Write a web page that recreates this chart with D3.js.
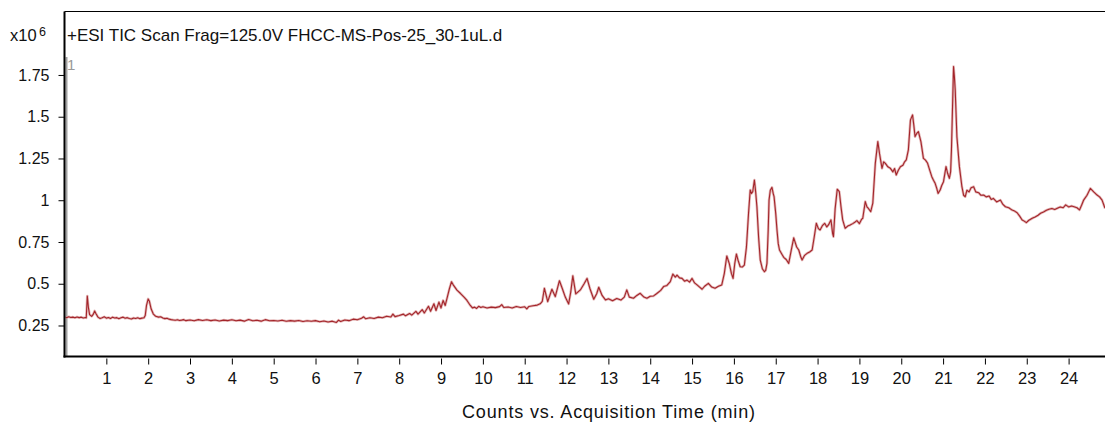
<!DOCTYPE html>
<html><head><meta charset="utf-8">
<script src="https://cdn.jsdelivr.net/npm/d3@7"></script>
<style>body{margin:0;background:#fff}svg{display:block}text{font-family:"Liberation Sans",Arial,sans-serif;fill:#111}</style>
</head><body><svg id="c" width="1105" height="423"></svg>
<script>
const title = "+ESI TIC Scan Frag=125.0V FHCC-MS-Pos-25_30-1uL.d";
const xLabel = "Counts vs. Acquisition Time (min)";
const xTicks = [1,2,3,4,5,6,7,8,9,10,11,12,13,14,15,16,17,18,19,20,21,22,23,24];
const yTicks = [0.25,0.5,0.75,1,1.25,1.5,1.75];
const yTickLabels = ["0.25","0.5","0.75","1","1.25","1.5","1.75"];
const times = [0.0,0.05,0.1,0.15,0.2,0.25,0.3,0.35,0.4,0.45,0.5,0.52,0.545,0.57,0.6,0.65,0.69,0.72,0.75,0.8,0.85,0.9,0.95,1.0,1.05,1.1,1.15,1.2,1.25,1.3,1.35,1.4,1.45,1.5,1.55,1.6,1.65,1.7,1.75,1.8,1.85,1.9,1.93,1.96,2.0,2.03,2.07,2.12,2.18,2.25,2.3,2.35,2.4,2.45,2.5,2.55,2.6,2.65,2.7,2.75,2.8,2.85,2.9,
3.0,3.1,3.2,3.3,3.4,3.5,3.6,3.7,3.8,3.9,4.0,4.1,4.2,4.3,4.4,4.5,4.6,4.7,4.8,4.9,5.0,5.1,5.2,5.3,5.4,5.5,5.6,5.7,5.8,5.9,6.0,6.1,6.2,6.3,6.4,6.5,6.55,6.6,6.7,6.8,6.9,7.0,7.1,7.15,7.2,7.3,7.4,7.5,7.6,7.7,7.8,7.85,7.9,8.0,8.1,8.15,8.25,8.3,8.4,8.45,8.55,8.6,8.7,8.75,8.83,8.88,8.95,9.0,9.05,9.1,9.15,9.2,9.25,9.3,9.38,9.46,9.55,9.62,9.7,9.75,9.8,9.85,9.9,9.95,10.0,10.1,10.2,10.3,10.4,10.45,10.5,10.6,10.7,10.8,10.9,11.0,11.05,11.1,11.2,11.3,11.37,11.42,11.47,11.55,11.65,11.73,11.83,11.9,11.97,12.05,12.1,12.15,12.22,12.33,12.42,12.49,12.56,12.65,12.72,12.77,12.85,12.93,13.0,13.1,13.2,13.3,13.38,13.44,13.5,13.6,13.68,13.76,13.85,13.92,14.0,14.08,14.15,14.25,14.32,14.4,14.48,14.54,14.6,14.64,14.7,14.76,14.82,14.88,14.94,15.0,15.06,15.12,15.18,15.24,15.3,15.39,15.47,15.55,15.63,15.71,15.77,15.83,15.89,15.94,15.98,16.02,16.06,16.1,16.15,16.2,16.25,16.3,16.35,16.39,16.42,16.45,16.49,16.52,16.55,16.59,16.63,16.68,16.73,16.76,16.79,16.82,16.84,16.87,16.91,16.94,16.96,17.0,17.03,17.06,17.09,17.14,17.19,17.25,17.31,17.37,17.43,17.5,17.55,17.6,17.63,17.69,17.75,17.81,17.87,17.92,17.97,18.02,18.06,18.12,18.17,18.22,18.26,18.32,18.36,18.38,18.42,18.47,18.52,18.56,18.6,18.66,18.72,18.78,18.84,18.9,18.94,19.0,19.05,19.08,19.14,19.18,19.21,19.27,19.32,19.38,19.44,19.48,19.54,19.58,19.62,19.68,19.74,19.8,19.84,19.88,19.93,19.98,20.04,20.08,20.12,20.17,20.22,20.27,20.3,20.33,20.37,20.41,20.47,20.53,20.58,20.63,20.68,20.73,20.77,20.81,20.85,20.88,20.93,20.97,21.01,21.07,21.11,21.15,21.18,21.2,21.23,21.25,21.27,21.29,21.33,21.39,21.45,21.49,21.53,21.57,21.62,21.67,21.73,21.78,21.85,21.9,21.97,22.03,22.1,22.15,22.2,22.28,22.37,22.43,22.49,22.57,22.65,22.71,22.77,22.83,22.89,22.94,22.99,23.05,23.13,23.2,23.27,23.33,23.4,23.47,23.53,23.6,23.67,23.73,23.8,23.87,23.93,24.0,24.07,24.13,24.2,24.26,24.31,24.36,24.44,24.52,24.6,24.68,24.74,24.8,24.87];
const counts = [0.300,0.297,0.302,0.298,0.300,0.296,0.301,0.297,0.300,0.295,0.298,0.296,0.427,0.360,0.315,0.305,0.318,0.337,0.322,0.300,0.292,0.296,0.302,0.294,0.298,0.292,0.300,0.295,0.297,0.291,0.296,0.300,0.293,0.297,0.292,0.289,0.295,0.292,0.296,0.291,0.294,0.296,0.310,0.370,0.409,0.395,0.350,0.320,0.305,0.300,0.302,0.295,0.291,0.293,0.288,0.285,0.283,0.281,0.284,0.280,0.282,0.285,0.279,
0.283,0.278,0.285,0.280,0.284,0.279,0.283,0.277,0.282,0.279,0.284,0.278,0.282,0.276,0.286,0.278,0.281,0.276,0.285,0.278,0.280,0.277,0.281,0.275,0.279,0.276,0.280,0.274,0.278,0.275,0.279,0.272,0.277,0.271,0.276,0.268,0.282,0.274,0.283,0.279,0.288,0.284,0.293,0.302,0.290,0.296,0.292,0.300,0.296,0.305,0.301,0.318,0.303,0.310,0.318,0.308,0.322,0.312,0.335,0.318,0.345,0.325,0.365,0.335,0.380,0.340,0.390,0.355,0.400,0.370,0.420,0.470,0.512,0.490,0.462,0.443,0.420,0.400,0.370,0.355,0.360,0.352,0.365,0.358,0.362,0.355,0.360,0.357,0.363,0.375,0.358,0.361,0.355,0.364,0.358,0.362,0.350,0.364,0.368,0.372,0.380,0.395,0.473,0.393,0.467,0.423,0.518,0.470,0.420,0.379,0.450,0.548,0.439,0.463,0.500,0.532,0.470,0.407,0.440,0.479,0.430,0.403,0.410,0.398,0.412,0.402,0.420,0.463,0.420,0.413,0.430,0.443,0.420,0.413,0.425,0.427,0.440,0.460,0.483,0.490,0.513,0.558,0.540,0.552,0.535,0.532,0.515,0.522,0.510,0.532,0.505,0.493,0.480,0.467,0.485,0.502,0.480,0.473,0.485,0.493,0.560,0.666,0.620,0.562,0.532,0.620,0.678,0.640,0.602,0.600,0.612,0.720,0.922,1.061,1.040,1.051,1.121,1.050,0.961,0.780,0.642,0.590,0.572,0.580,0.622,0.820,1.001,1.060,1.077,1.040,1.021,0.920,0.822,0.740,0.702,0.680,0.658,0.645,0.622,0.700,0.775,0.720,0.702,0.660,0.642,0.670,0.682,0.690,0.702,0.780,0.862,0.830,0.822,0.850,0.862,0.840,0.852,0.882,0.800,0.782,0.950,1.066,1.051,0.960,0.882,0.832,0.845,0.852,0.860,0.870,0.878,0.860,0.885,0.892,0.992,0.960,0.952,0.932,0.982,1.221,1.351,1.281,1.191,1.230,1.221,1.200,1.191,1.170,1.190,1.151,1.180,1.201,1.210,1.230,1.241,1.301,1.481,1.511,1.450,1.381,1.400,1.411,1.351,1.251,1.240,1.221,1.180,1.141,1.120,1.101,1.070,1.041,1.061,1.090,1.111,1.201,1.160,1.131,1.170,1.301,1.600,1.800,1.740,1.660,1.381,1.201,1.081,1.030,1.021,1.060,1.050,1.075,1.081,1.050,1.045,1.030,1.031,1.020,1.025,1.005,1.011,0.990,1.001,0.975,0.961,0.955,0.941,0.935,0.925,0.905,0.882,0.875,0.866,0.880,0.892,0.900,0.910,0.922,0.930,0.940,0.946,0.950,0.945,0.952,0.960,0.955,0.972,0.960,0.965,0.961,0.955,0.942,0.970,1.001,1.030,1.071,1.050,1.031,1.020,1.001,0.952];

const svg = d3.select("#c");
const x = d3.scaleLinear().domain([0, 24.87]).range([64.5, 1105]);
const y = d3.scaleLinear().domain([0, 2.13]).range([367.25, 11.5]);
const plotTop = 11.5, plotBottom = 356.5, plotLeft = 64.5, plotRight = 1105;
const FONT = "'Liberation Sans',Arial,sans-serif";

svg.append("defs").append("clipPath").attr("id","clip").append("rect")
  .attr("x", plotLeft+1).attr("y", plotTop).attr("width", plotRight-plotLeft).attr("height", plotBottom-plotTop);

svg.append("line").attr("x1", plotLeft).attr("x2", plotRight).attr("y1", plotTop).attr("y2", plotTop).attr("stroke","#000").attr("stroke-width",1.2);
svg.append("rect").attr("x", plotLeft+1).attr("y", 57).attr("width", 2).attr("height", plotBottom-57).attr("fill","#a0a0a0");

const data = times.map((t,i)=>[t, counts[i]]);
const line = d3.line().x(d=>x(d[0])).y(d=>y(d[1]));
const g = svg.append("g").attr("clip-path","url(#clip)");
g.append("path").datum(data).attr("d", line).attr("fill","none").attr("stroke","#d99a9a").attr("stroke-width",2.6).attr("stroke-linejoin","round").attr("opacity",0.7);
g.append("path").datum(data).attr("d", line).attr("fill","none").attr("stroke","#a3252b").attr("stroke-width",1.1).attr("stroke-linejoin","round");

const xAxis = d3.axisBottom(x).tickValues(xTicks).tickSize(6).tickPadding(8).tickFormat(d3.format("d"));
const xg = svg.append("g").attr("transform", `translate(0,${plotBottom+2})`).call(xAxis);
xg.select(".domain").remove();
xg.selectAll("line").attr("stroke","#000");
xg.selectAll("text").attr("font-size","16.5px").style("font-family",FONT).attr("fill","#111");

const yAxis = d3.axisLeft(y).tickValues(yTicks).tickSize(6).tickPadding(9).tickFormat((d,i)=>yTickLabels[i]);
const yg = svg.append("g").attr("transform", `translate(${plotLeft},0)`).call(yAxis);
yg.select(".domain").remove();
yg.selectAll("line").attr("stroke","#000");
yg.selectAll("text").attr("font-size","16px").style("font-family",FONT).attr("fill","#111");

svg.append("line").attr("x1", plotLeft).attr("x2", plotLeft).attr("y1", plotTop).attr("y2", plotBottom+1).attr("stroke","#000").attr("stroke-width",2);
svg.append("line").attr("x1", plotLeft-1).attr("x2", plotRight).attr("y1", plotBottom).attr("y2", plotBottom).attr("stroke","#000").attr("stroke-width",2);

svg.append("text").attr("x", 10).attr("y", 41).attr("font-size","16.5px").text("x10");
svg.append("text").attr("x", 39).attr("y", 36).attr("font-size","12.5px").text("6");
svg.append("text").attr("x", 67).attr("y", 40.5).attr("font-size","17px").text(title);
svg.append("text").attr("x", 67).attr("y", 70).attr("font-size","15px").style("fill","#999").text("1");
svg.append("text").attr("x", 608.5).attr("y", 418).attr("text-anchor","middle").attr("font-size","18px")
  .attr("textLength", 293).attr("lengthAdjust","spacing").text(xLabel);
</script></body></html>
